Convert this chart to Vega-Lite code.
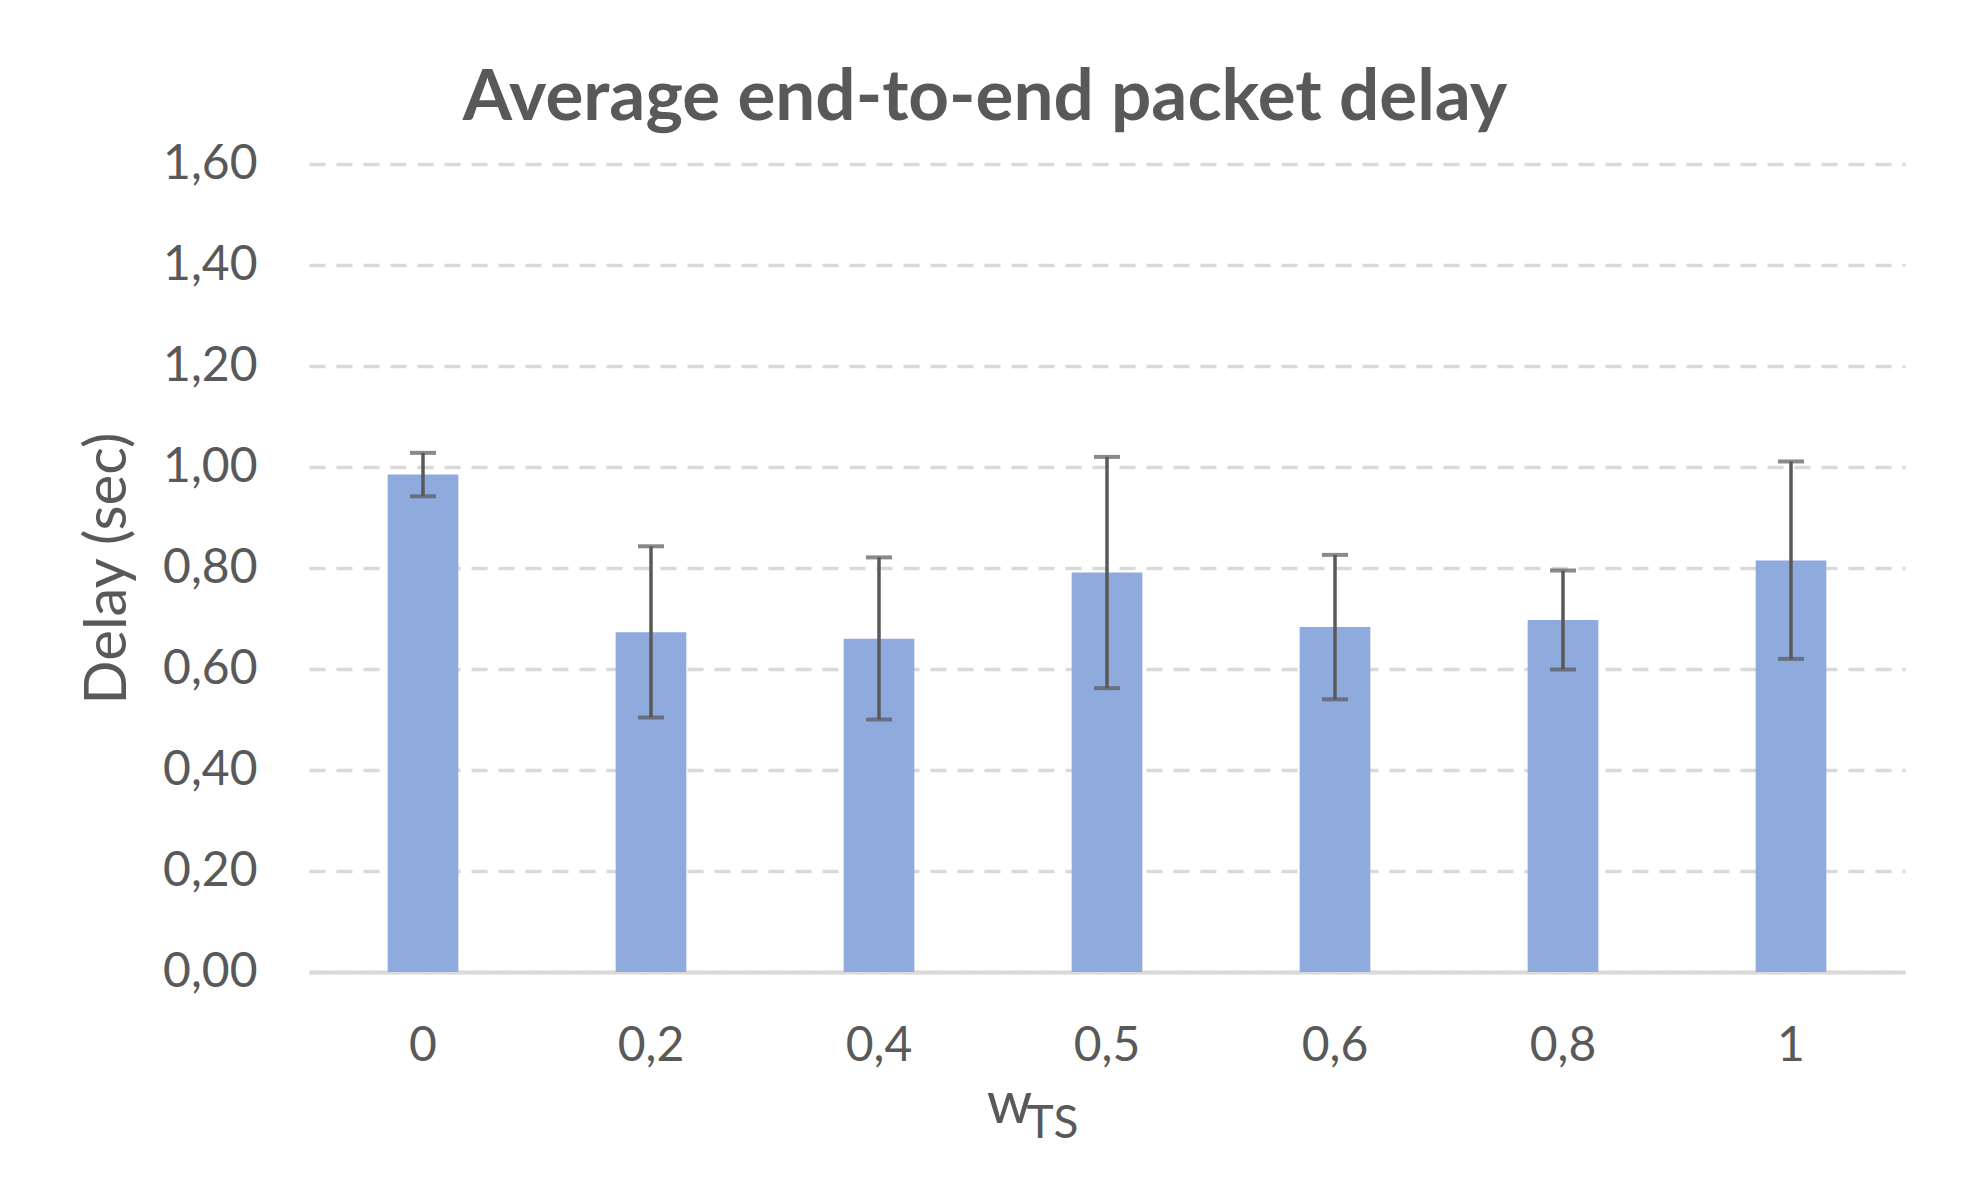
{
  "$schema": "https://vega.github.io/schema/vega-lite/v6.json",
  "width": 1596,
  "height": 808,
  "autosize": {"type": "none"},
  "padding": {"left": 309, "top": 164, "right": 70, "bottom": 223},
  "background": "white",
  "title": {
    "text": "Average end-to-end packet delay",
    "font": "Lato",
    "fontSize": 71,
    "fontWeight": "bold",
    "color": "#595959",
    "anchor": "middle",
    "frame": "group",
    "dx": -122,
    "dy": 95,
    "baseline": "alphabetic",
    "offset": 44
  },
  "config": {
    "view": {"stroke": null},
    "font": "Lato",
    "locale": {
      "number": {"decimal": ",", "thousands": ".", "grouping": [3], "currency": ["", " €"]}
    }
  },
  "data": {
    "values": [
      {"w": "0", "delay": 0.985, "lower": 0.942, "upper": 1.028},
      {"w": "0,2", "delay": 0.673, "lower": 0.504, "upper": 0.843},
      {"w": "0,4", "delay": 0.660, "lower": 0.500, "upper": 0.821},
      {"w": "0,5", "delay": 0.791, "lower": 0.562, "upper": 1.020},
      {"w": "0,6", "delay": 0.683, "lower": 0.540, "upper": 0.826},
      {"w": "0,8", "delay": 0.697, "lower": 0.599, "upper": 0.795},
      {"w": "1", "delay": 0.815, "lower": 0.620, "upper": 1.011}
    ]
  },
  "layer": [
    {
      "mark": {"type": "bar", "color": "#8faadc"},
      "encoding": {
        "x": {
          "field": "w",
          "type": "nominal",
          "sort": null,
          "scale": {"paddingInner": 0.69, "paddingOuter": 0.345},
          "axis": {
            "orient": "bottom",
            "title": "w",
            "labelAngle": 0,
            "labelFont": "Lato",
            "labelFontSize": 48,
            "labelColor": "#595959",
            "labelBaseline": "alphabetic",
            "labelPadding": 88,
            "ticks": false,
            "tickSize": 0,
            "domainColor": "#d9d9d9",
            "domainWidth": 4,
            "titleFont": "Lato",
            "titleFontSize": 58,
            "titleFontWeight": "normal",
            "titleColor": "#595959",
            "titleX": 700,
            "titleY": 150,
            "titleAlign": "center",
            "titleBaseline": "alphabetic"
          }
        },
        "y": {
          "field": "delay",
          "type": "quantitative",
          "scale": {"domain": [0, 1.6]},
          "axis": {
            "title": "Delay (sec)",
            "values": [0, 0.2, 0.4, 0.6, 0.8, 1.0, 1.2, 1.4, 1.6],
            "format": ".2f",
            "domain": false,
            "ticks": false,
            "labelPadding": 52,
            "labelFont": "Lato",
            "labelFontSize": 48,
            "labelColor": "#595959",
            "gridColor": "#d9d9d9",
            "gridDash": [16, 11],
            "gridWidth": 3.5,
            "titleFont": "Lato",
            "titleFontSize": 58,
            "titleFontWeight": "normal",
            "titleColor": "#595959",
            "titlePadding": 25
          }
        }
      }
    },
    {
      "mark": {"type": "rule", "color": "#595959", "strokeWidth": 3.5},
      "encoding": {
        "x": {
          "field": "w",
          "type": "nominal",
          "sort": null,
          "axis": {
            "orient": "bottom",
            "title": "TS",
            "labels": false,
            "ticks": false,
            "domain": false,
            "grid": false,
            "titleFont": "Lato",
            "titleFontSize": 46,
            "titleFontWeight": "normal",
            "titleColor": "#595959",
            "titleX": 743,
            "titleY": 165,
            "titleAlign": "center",
            "titleBaseline": "alphabetic"
          }
        },
        "y": {"field": "lower", "type": "quantitative", "title": "Delay (sec)"},
        "y2": {"field": "upper"}
      }
    },
    {
      "mark": {"type": "tick", "color": "#595959", "thickness": 4, "size": 26},
      "encoding": {
        "x": {"field": "w", "type": "nominal", "sort": null, "axis": null},
        "y": {"field": "lower", "type": "quantitative", "title": "Delay (sec)"}
      }
    },
    {
      "mark": {"type": "tick", "color": "#595959", "thickness": 4, "size": 26},
      "encoding": {
        "x": {"field": "w", "type": "nominal", "sort": null, "axis": null},
        "y": {"field": "upper", "type": "quantitative", "title": "Delay (sec)"}
      }
    }
  ],
  "resolve": {"axis": {"x": "independent"}}
}
